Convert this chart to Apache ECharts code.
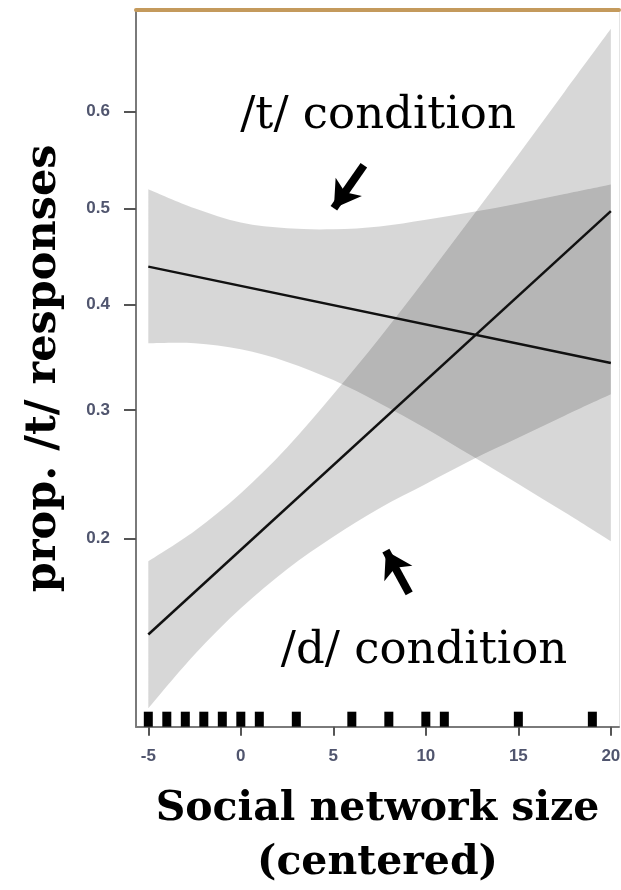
<!DOCTYPE html>
<html>
<head>
<meta charset="utf-8">
<script src="https://cdn.jsdelivr.net/npm/echarts@6/dist/echarts.min.js"></script>
<style>
  html, body { margin: 0; padding: 0; background: #fff; }
  #chart { width: 621px; height: 890px; }
</style>
</head>
<body>
<div id="chart"></div>
<script>
// x values where the confidence bands were read
const xSample = [-5, -2.5, 0, 2.5, 5, 7.5, 10, 12.5, 15, 17.5, 20];
// /t/ condition band (probabilities)
const tUpper = [0.520, 0.500, 0.485, 0.479, 0.478, 0.481, 0.488, 0.496, 0.505, 0.515, 0.525];
const tLower = [0.362, 0.362, 0.356, 0.344, 0.327, 0.306, 0.284, 0.261, 0.239, 0.218, 0.198];
// /d/ condition band (probabilities)
const dUpper = [0.185, 0.205, 0.232, 0.268, 0.314, 0.367, 0.427, 0.491, 0.556, 0.620, 0.680];
const dLower = [0.109, 0.133, 0.157, 0.180, 0.201, 0.221, 0.239, 0.258, 0.276, 0.295, 0.314];
// fitted lines
const fitX = [-5, 20];
const tFit = [0.439, 0.343];
const dFit = [0.143, 0.497];
// rug of observed network sizes
const rugX = [-5, -4, -3, -2, -1, 0, 1, 3, 6, 8, 10, 11, 15, 19];
// tick labels
const yTicks = [0.2, 0.3, 0.4, 0.5, 0.6];
const xTicks = [-5, 0, 5, 10, 15, 20];

const logit = p => Math.log(p / (1 - p));
const Y_MIN = -2.178;
const Y_MAX = 0.833;
const X_MIN = -5.665;
const X_MAX = 20.44;

const bandColor = 'rgba(0,0,0,0.155)';
const labelColor = '#50556e';

// smooth curve through pixel points (catmull-rom as cubic bezier)
function curveTo(pts) {
  let d = '';
  for (let i = 0; i < pts.length - 1; i++) {
    const p0 = pts[Math.max(i - 1, 0)];
    const p1 = pts[i];
    const p2 = pts[i + 1];
    const p3 = pts[Math.min(i + 2, pts.length - 1)];
    const c1 = [p1[0] + (p2[0] - p0[0]) / 6, p1[1] + (p2[1] - p0[1]) / 6];
    const c2 = [p2[0] - (p3[0] - p1[0]) / 6, p2[1] - (p3[1] - p1[1]) / 6];
    d += ` C${c1[0]},${c1[1]} ${c2[0]},${c2[1]} ${p2[0]},${p2[1]}`;
  }
  return d;
}

// one closed shape per band: upper edge left to right, lower edge back
function bandSeries(lower, upper) {
  return {
    type: 'custom',
    data: xSample.map((x, i) => [x, logit(lower[i]), logit(upper[i])]),
    renderItem: (params, api) => {
      if (params.dataIndex !== 0) return null;
      const up = xSample.map((x, i) => api.coord([x, logit(upper[i])]));
      const lo = xSample.map((x, i) => api.coord([x, logit(lower[i])])).reverse();
      const pathData = `M${up[0][0]},${up[0][1]}` + curveTo(up) +
        ` L${lo[0][0]},${lo[0][1]}` + curveTo(lo) + ' Z';
      return {
        type: 'path',
        shape: { pathData: pathData },
        style: { fill: bandColor, stroke: null }
      };
    },
    silent: true,
    z: 1
  };
}

const chart = echarts.init(document.getElementById('chart'));

const option = {
  animation: false,
  grid: { left: 136, right: 2, top: 10, bottom: 163.3, containLabel: false, outerBoundsMode: 'none' },
  xAxis: [
    {
      type: 'value',
      min: X_MIN,
      max: X_MAX,
      axisLine: { show: true, onZero: false, lineStyle: { color: '#7a7a7a', width: 2 } },
      axisTick: { show: true, customValues: xTicks, length: 9, lineStyle: { color: '#555', width: 2 } },
      axisLabel: {
        customValues: xTicks,
        margin: 21,
        color: labelColor,
        fontFamily: 'Liberation Sans',
        fontWeight: 'bold',
        fontSize: 17
      },
      splitLine: { show: false },
      name: 'Social network size\n(centered)',
      nameLocation: 'middle',
      nameGap: 56,
      nameTextStyle: {
        fontFamily: 'DejaVu Serif',
        fontWeight: 'bold',
        fontSize: 41,
        lineHeight: 54,
        color: '#000'
      }
    },
    {
      type: 'value',
      position: 'top',
      min: X_MIN,
      max: X_MAX,
      axisLine: { show: true, onZero: false, lineStyle: { color: '#c49a5c', width: 4 } },
      axisTick: { show: false },
      axisLabel: { show: false },
      splitLine: { show: false }
    }
  ],
  yAxis: [
    {
      type: 'value',
      min: Y_MIN,
      max: Y_MAX,
      axisLine: { show: true, onZero: false, lineStyle: { color: '#7a7a7a', width: 2 } },
      axisTick: { show: true, customValues: yTicks.map(logit), length: 12, lineStyle: { color: '#555', width: 2 } },
      axisLabel: {
        customValues: yTicks.map(logit),
        formatter: v => (1 / (1 + Math.exp(-v))).toFixed(1),
        margin: 26,
        color: labelColor,
        fontFamily: 'Liberation Sans',
        fontWeight: 'bold',
        fontSize: 17
      },
      splitLine: { show: false },
      name: 'prop. /t/ responses',
      nameLocation: 'middle',
      nameRotate: 90,
      nameGap: 71,
      nameTextStyle: {
        fontFamily: 'DejaVu Serif',
        fontWeight: 'bold',
        fontSize: 43,
        color: '#000'
      }
    },
    {
      type: 'value',
      position: 'right',
      min: Y_MIN,
      max: Y_MAX,
      axisLine: { show: true, onZero: false, lineStyle: { color: '#e4e4e4', width: 1 } },
      axisTick: { show: false },
      axisLabel: { show: false },
      splitLine: { show: false }
    }
  ],
  series: [
    bandSeries(tLower, tUpper),
    bandSeries(dLower, dUpper),
    {
      name: '/t/ condition',
      type: 'line',
      data: fitX.map((x, i) => [x, logit(tFit[i])]),
      symbol: 'none',
      lineStyle: { color: '#111', width: 2.5 },
      z: 3,
      markLine: {
        silent: true,
        symbol: ['none', 'arrow'],
        symbolSize: [24, 26],
        label: { show: false },
        lineStyle: { color: '#000', width: 8, type: 'solid' },
        data: [
          [{ coord: [6.65, logit(0.545)] }, { coord: [5.03, logit(0.5)] }],
          [{ coord: [9.1, logit(0.1655)] }, { coord: [7.84, logit(0.1918)] }]
        ]
      }
    },
    {
      name: '/d/ condition',
      type: 'line',
      data: fitX.map((x, i) => [x, logit(dFit[i])]),
      symbol: 'none',
      lineStyle: { color: '#111', width: 2.5 },
      z: 3
    },
    {
      type: 'scatter',
      data: rugX.map(x => [x, Y_MIN]),
      symbol: 'rect',
      symbolSize: [9, 15],
      symbolOffset: [0, -7.5],
      itemStyle: { color: '#000', opacity: 1 },
      clip: false,
      silent: true,
      z: 4
    }
  ],
  graphic: [
    {
      type: 'text',
      x: 378,
      y: 116,
      style: {
        text: '/t/ condition',
        font: '45px "DejaVu Serif"',
        fill: '#000',
        align: 'center',
        verticalAlign: 'middle'
      }
    },
    {
      type: 'text',
      x: 424,
      y: 651,
      style: {
        text: '/d/ condition',
        font: '45px "DejaVu Serif"',
        fill: '#000',
        align: 'center',
        verticalAlign: 'middle'
      }
    }
  ]
};

chart.setOption(option);
</script>
</body>
</html>
